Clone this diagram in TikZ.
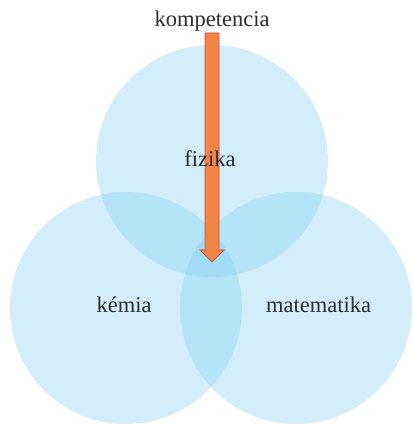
\documentclass[tikz,border=0pt]{standalone}
\usepackage{fontspec}
\setmainfont{Liberation Serif}
\definecolor{venn}{RGB}{120,204,240}
\definecolor{arrowfill}{RGB}{243,132,72}
\definecolor{arrowline}{RGB}{190,90,60}
\definecolor{txt}{RGB}{45,45,45}
\begin{document}
\begin{tikzpicture}[x=1pt,y=1pt,
  set/.style={circle, minimum size=232pt, inner sep=0pt, fill=venn, fill opacity=0.33, draw=none},
  lbl/.style={text=txt, font=\fontsize{22.5}{26}\selectfont, inner sep=0pt, anchor=base}]
\useasboundingbox (0,0) rectangle (412,425);
\node[set] (fiz) at (212,264) {};
\node[set] (kem) at (126,117) {};
\node[set] (mat) at (296,117) {};
\coordinate (tip) at (212,163);
\draw[fill=arrowfill, draw=arrowline, line width=0.8pt, line join=miter]
  (205,392) -- (219,392) -- (219,175) -- (224,175) -- (tip) -- (200,175) -- (205,175) -- cycle;
\node[lbl] (komp) at (212,398) {kompetencia};
\node[lbl] (lfiz) at (210,258) {fizika};
\node[lbl] (lkem) at (124,112) {kémia};
\node[lbl] (lmat) at (318.5,112) {matematika};
\end{tikzpicture}
\end{document}
